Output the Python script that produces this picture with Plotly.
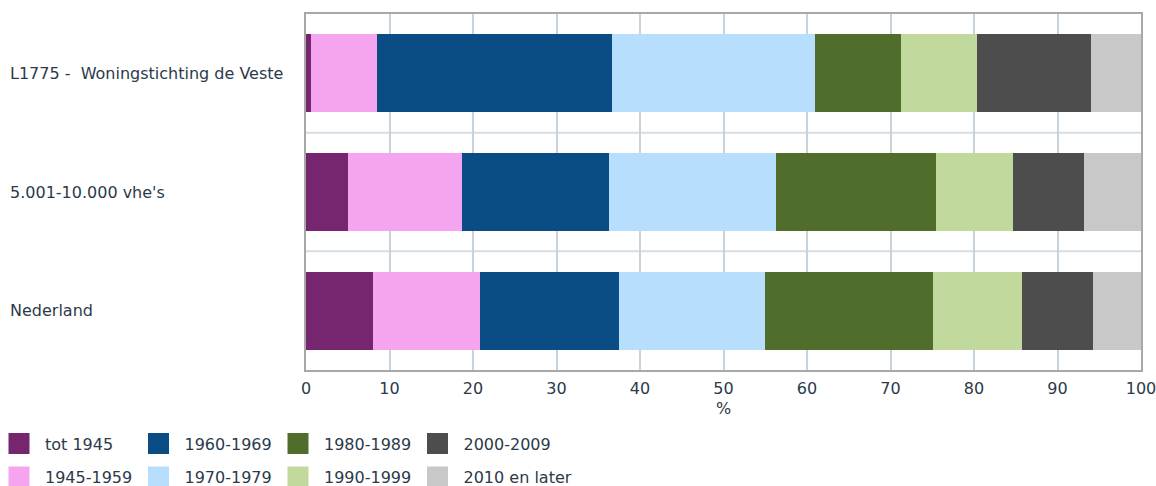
import plotly.graph_objects as go

categories = ["L1775 -  Woningstichting de Veste", "5.001-10.000 vhe's", "Nederland"]
series_names = ["tot 1945", "1945-1959", "1960-1969", "1970-1979",
                "1980-1989", "1990-1999", "2000-2009", "2010 en later"]
values = {
    "tot 1945":      [0.6, 5.0, 8.0],
    "1945-1959":     [7.9, 13.7, 12.8],
    "1960-1969":     [28.2, 17.6, 16.7],
    "1970-1979":     [24.2, 20.0, 17.5],
    "1980-1989":     [10.4, 19.2, 20.1],
    "1990-1999":     [9.0, 9.2, 10.6],
    "2000-2009":     [13.7, 8.5, 8.6],
    "2010 en later": [6.0, 6.8, 5.7],
}
colors = ["#76266f", "#f5a4ef", "#0a4d85", "#b8defd",
          "#516d2b", "#c2d99d", "#4d4d4d", "#c8c8c8"]
x_ticks = [0, 10, 20, 30, 40, 50, 60, 70, 80, 90, 100]
x_title = "%"

FONT = "DejaVu Sans"
FS = 16
TXT = "#2b3a4a"
W, H = 1156, 486
ML, MR, MT, MB = 306, 15, 14, 116
PW = W - ML - MR

# legend placement: column-major, two rows of four
legend_ids = ["legend", "legend2", "legend", "legend2",
              "legend", "legend2", "legend", "legend3"]

fig = go.Figure()
for i, name in enumerate(series_names):
    fig.add_trace(go.Bar(
        y=categories, x=values[name], name=name, orientation="h",
        marker=dict(color=colors[i], line=dict(width=0)),
        showlegend=False, hoverinfo="x+name",
    ))
for i, name in enumerate(series_names):
    fig.add_trace(go.Scatter(
        x=[None], y=[None], mode="markers", name=name,
        marker=dict(symbol="square", size=16, color=colors[i],
                    line=dict(color=colors[i], width=5)),
        legend=legend_ids[i], showlegend=True,
    ))

for cat in categories:
    fig.add_annotation(
        x=-(ML - 8) / PW, xref="paper", y=cat, yref="y",
        text=cat, showarrow=False, xanchor="left", yanchor="middle",
        font=dict(family=FONT, size=FS, color=TXT),
    )
for k in range(len(categories) - 1):
    fig.add_shape(type="line", xref="paper", yref="y", x0=0, x1=1,
                  y0=k + 0.5, y1=k + 0.5,
                  line=dict(color="#d3dee6", width=2), layer="below")

COL = 139.5
X0 = -7
legend_common = dict(
    orientation="h", xref="paper", yref="container",
    xanchor="left", yanchor="middle", traceorder="normal",
    font=dict(family=FONT, size=FS, color=TXT),
    itemwidth=42,
    bgcolor="rgba(0,0,0,0)", tracegroupgap=0, borderwidth=0,
)
fixed_w = dict(entrywidth=COL - 57, entrywidthmode="pixels")
fig.update_layout(
    width=W, height=H,
    margin=dict(l=ML, r=MR, t=MT, b=MB, autoexpand=False),
    paper_bgcolor="white", plot_bgcolor="white",
    barmode="stack", bargap=0.34,
    font=dict(family=FONT, size=FS, color=TXT),
    xaxis=dict(
        range=[0, 100], tickvals=x_ticks, ticktext=[str(t) for t in x_ticks],
        showgrid=True, gridcolor="#c6d3dc", gridwidth=2,
        showline=True, linecolor="#a8a8a8", linewidth=1.5, mirror=True,
        ticks="", zeroline=False, automargin=False, ticklabeloverflow="allow",
        ticklabelstandoff=3,
        title=dict(text=x_title, standoff=6, font=dict(family=FONT, size=FS, color=TXT)),
        tickfont=dict(family=FONT, size=FS, color=TXT),
    ),
    yaxis=dict(
        categoryorder="array", categoryarray=categories, autorange="reversed",
        showticklabels=False, showgrid=False,
        showline=True, linecolor="#a8a8a8", linewidth=1.5, mirror=True,
        ticks="", zeroline=False, automargin=False,
    ),
    legend=dict(legend_common, **fixed_w, x=(X0 - ML) / PW, y=1 - 443.5 / H),
    legend2=dict(legend_common, **fixed_w, x=(X0 - ML) / PW, y=1 - 477 / H),
    legend3=dict(legend_common, x=(X0 + 3 * COL - ML) / PW, y=1 - 477 / H),
    showlegend=True,
)

fig.write_html("out.html")
